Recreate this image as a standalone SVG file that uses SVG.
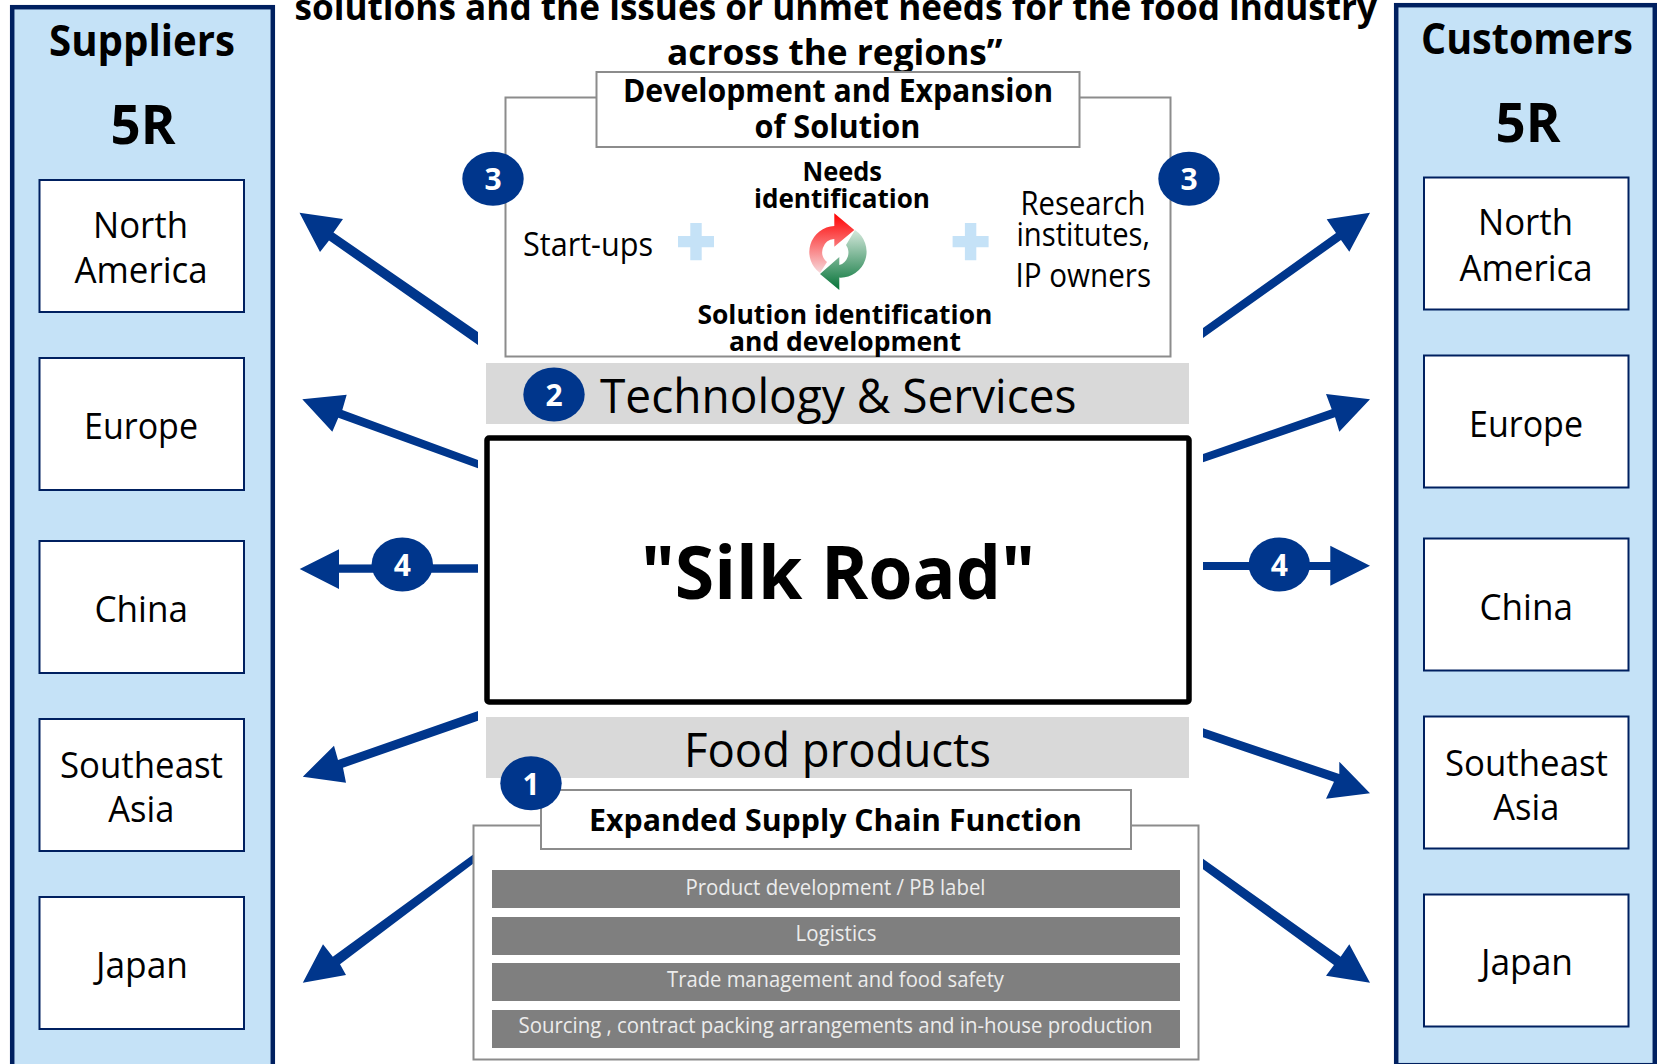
<svg xmlns="http://www.w3.org/2000/svg" width="1657" height="1064" viewBox="0 0 1657 1064">
<style>
text{font-family:"Open Sans","Noto Sans","Liberation Sans",sans-serif;fill:#000}
.b{font-weight:700}
.panel{fill:#c5e2f7;stroke:#002060;stroke-width:4.5}
.region{fill:#fff;stroke:#002060;stroke-width:2}
.conn{fill:#00368c}
.badge{fill:#00368c}
.num{fill:#fff;font-weight:700;font-size:30px;text-anchor:middle}
.frame{fill:#fff;stroke:#8c8c8c;stroke-width:2}
.band{fill:#d9d9d9}
.bar{fill:#7f7f7f}
.bt{fill:#ececec;font-size:21px}
.r{font-size:36px}
.plus{fill:#c5e2f7}
</style>
<defs>
<linearGradient id="gr" x1="0" y1="0" x2="0" y2="1"><stop offset="0" stop-color="#ff0000"/><stop offset="1" stop-color="#f6d9dc"/></linearGradient>
<linearGradient id="gg" x1="0" y1="0" x2="0" y2="1"><stop offset="0" stop-color="#d5e8dc"/><stop offset="1" stop-color="#057338"/></linearGradient>
</defs>
<rect width="1657" height="1064" fill="#fff"/>

<g id="title">
<text class="b" x="294.5" y="19.5" font-size="36" textLength="1082.5" lengthAdjust="spacingAndGlyphs">solutions and the issues or unmet needs for the food industry</text>
<text class="b" x="667" y="64.5" font-size="36" textLength="335.5" lengthAdjust="spacingAndGlyphs">across the regions”</text>
</g>

<g id="suppliers">
<rect class="panel" x="12.2" y="7.2" width="260.6" height="1070"/>
<text class="b" x="49" y="56" font-size="43" textLength="186" lengthAdjust="spacingAndGlyphs">Suppliers</text>
<text class="b" x="110.5" y="144" font-size="53" textLength="65" lengthAdjust="spacingAndGlyphs">5R</text>
</g>
<g id="supplier-north-america"><rect class="region" x="39.5" y="180" width="204.5" height="132"/><text class="r" x="93" y="238" textLength="95" lengthAdjust="spacingAndGlyphs">North</text><text class="r" x="74.5" y="282.8" textLength="133" lengthAdjust="spacingAndGlyphs">America</text></g>
<g id="supplier-europe"><rect class="region" x="39.5" y="358" width="204.5" height="132"/><text class="r" x="84" y="439" textLength="114" lengthAdjust="spacingAndGlyphs">Europe</text></g>
<g id="supplier-china"><rect class="region" x="39.5" y="541" width="204.5" height="132"/><text class="r" x="94.5" y="622" textLength="93.5" lengthAdjust="spacingAndGlyphs">China</text></g>
<g id="supplier-southeast-asia"><rect class="region" x="39.5" y="719" width="204.5" height="132"/><text class="r" x="60" y="777.5" textLength="163" lengthAdjust="spacingAndGlyphs">Southeast</text><text class="r" x="108.3" y="822.3" textLength="66" lengthAdjust="spacingAndGlyphs">Asia</text></g>
<g id="supplier-japan"><rect class="region" x="39.5" y="897" width="204.5" height="132"/><text class="r" x="96" y="977.5" textLength="92" lengthAdjust="spacingAndGlyphs">Japan</text></g>

<g id="customers">
<rect class="panel" x="1396.2" y="5.2" width="258.6" height="1060"/>
<text class="b" x="1421" y="54.3" font-size="43" textLength="212" lengthAdjust="spacingAndGlyphs">Customers</text>
<text class="b" x="1495.5" y="142.3" font-size="53" textLength="65" lengthAdjust="spacingAndGlyphs">5R</text>
</g>
<g id="customer-north-america"><rect class="region" x="1424" y="177.5" width="204.5" height="132"/><text class="r" x="1478" y="235.4" textLength="95" lengthAdjust="spacingAndGlyphs">North</text><text class="r" x="1459.5" y="280.8" textLength="133" lengthAdjust="spacingAndGlyphs">America</text></g>
<g id="customer-europe"><rect class="region" x="1424" y="355.5" width="204.5" height="132"/><text class="r" x="1469" y="437" textLength="114" lengthAdjust="spacingAndGlyphs">Europe</text></g>
<g id="customer-china"><rect class="region" x="1424" y="538.5" width="204.5" height="132"/><text class="r" x="1479.5" y="619.5" textLength="93.5" lengthAdjust="spacingAndGlyphs">China</text></g>
<g id="customer-southeast-asia"><rect class="region" x="1424" y="716.5" width="204.5" height="132"/><text class="r" x="1445" y="775.5" textLength="163" lengthAdjust="spacingAndGlyphs">Southeast</text><text class="r" x="1493.3" y="820" textLength="66" lengthAdjust="spacingAndGlyphs">Asia</text></g>
<g id="customer-japan"><rect class="region" x="1424" y="894.5" width="204.5" height="132"/><text class="r" x="1481" y="975" textLength="92" lengthAdjust="spacingAndGlyphs">Japan</text></g>

<g id="connectors">
<polygon class="conn" points="299.5,212.7 343,219 333.5,232.5 478,332 478,345 329,240.5 320,252"/>
<polygon class="conn" points="302.3,399.3 346.7,394.7 342.3,410 478,460 478,468.3 338.3,417.7 332.3,431.7"/>
<polygon class="conn" points="299.7,569 339,549.3 339,564.5 478,564.3 478,572.7 339,572.7 339,589"/>
<polygon class="conn" points="302.8,776.7 334,745.7 338,760 478,711 478,720.7 343,767.7 346,782.7"/>
<polygon class="conn" points="302.8,982.7 323,944.3 332.8,956.7 478,851 478,860 340,964.3 346,975"/>
<polygon class="conn" points="1370,212.7 1326.7,219.3 1336,233 1203,328 1203,338 1341,240 1349.3,251.7"/>
<polygon class="conn" points="1370,399.3 1326,394 1331.7,409.3 1203,454 1203,462.3 1335,417.3 1339.3,431.7"/>
<polygon class="conn" points="1370,565.7 1330.3,545.7 1330.3,562 1203,562 1203,570 1330.3,570 1330.3,585.7"/>
<polygon class="conn" points="1370,793.3 1339.3,761.7 1339.3,774 1203,728.3 1203,737.3 1334,781.7 1326,798.7"/>
<polygon class="conn" points="1370,982.7 1349.3,944.3 1340.7,956.7 1203,858.7 1203,869.3 1334,965 1326,975.7"/>
</g>

<g id="development">
<rect class="frame" x="505.5" y="97.5" width="665" height="259"/>
<rect class="frame" x="596.5" y="72" width="483" height="75"/>
<text class="b" x="623" y="102" font-size="32" textLength="430" lengthAdjust="spacingAndGlyphs">Development and Expansion</text>
<text class="b" x="754.5" y="137.5" font-size="32" textLength="166" lengthAdjust="spacingAndGlyphs">of Solution</text>
<text class="b" x="802.5" y="181.2" font-size="27" textLength="79.5" lengthAdjust="spacingAndGlyphs">Needs</text>
<text class="b" x="754" y="208.3" font-size="27" textLength="176" lengthAdjust="spacingAndGlyphs">identification</text>
<text class="b" x="697.4" y="323.5" font-size="27" textLength="295" lengthAdjust="spacingAndGlyphs">Solution identification</text>
<text class="b" x="729" y="350.8" font-size="27" textLength="232" lengthAdjust="spacingAndGlyphs">and development</text>
<text x="523" y="255.5" font-size="32" textLength="130" lengthAdjust="spacingAndGlyphs">Start-ups</text>
<text x="1020.5" y="215" font-size="32" textLength="125" lengthAdjust="spacingAndGlyphs">Research</text>
<text x="1016.5" y="246" font-size="32" textLength="133.5" lengthAdjust="spacingAndGlyphs">institutes,</text>
<text x="1015.5" y="286.7" font-size="32" textLength="135.5" lengthAdjust="spacingAndGlyphs">IP owners</text>
<path class="plus" d="M690.3,223h11.4v12.9h12.3v11.4h-12.3v13h-11.4v-13h-12.3v-11.4h12.3z"/>
<path class="plus" d="M964.9,223h11.4v12.9h12.3v11.4h-12.3v13h-11.4v-13h-12.3v-11.4h12.3z"/>
<path fill="url(#gg)" d="M855,230A26,26 0 0 1 839.3,277.6L839.3,290L820,274L839.3,257L839.3,265A13,13 0 0 0 846,245Z"/>
<path fill="url(#gr)" d="M820,273A26,26 0 0 1 834.3,226L834.3,213.3L854.3,230L834.3,246.7L834.3,239A13,13 0 0 0 827,262Z"/>
</g>

<g id="technology-services">
<rect class="band" x="486" y="363" width="703" height="61"/>
<text x="600" y="412.7" font-size="48" textLength="476.5" lengthAdjust="spacingAndGlyphs">Technology &amp; Services</text>
</g>

<g id="silk-road">
<rect x="487" y="438" width="702" height="264" rx="2" fill="#fff" stroke="#000" stroke-width="5.5"/>
<text class="b" x="641" y="599" font-size="73" textLength="394" lengthAdjust="spacingAndGlyphs">"Silk Road"</text>
</g>

<g id="food-products">
<rect class="band" x="486" y="717" width="703" height="61"/>
<text x="684" y="766.5" font-size="48" textLength="307" lengthAdjust="spacingAndGlyphs">Food products</text>
</g>

<g id="supply-chain">
<rect class="frame" x="473.5" y="825.5" width="725" height="234"/>
<rect class="frame" x="541" y="790" width="590" height="59"/>
<text class="b" x="589" y="831" font-size="30" textLength="493" lengthAdjust="spacingAndGlyphs">Expanded Supply Chain Function</text>
<rect class="bar" x="492" y="870" width="688" height="38"/>
<text class="bt" x="685.5" y="894.7" textLength="300" lengthAdjust="spacingAndGlyphs">Product development / PB label</text>
<rect class="bar" x="492" y="917" width="688" height="38"/>
<text class="bt" x="795.6" y="940.7" textLength="81" lengthAdjust="spacingAndGlyphs">Logistics</text>
<rect class="bar" x="492" y="963" width="688" height="38"/>
<text class="bt" x="667" y="987.4" textLength="337" lengthAdjust="spacingAndGlyphs">Trade management and food safety</text>
<rect class="bar" x="492" y="1010" width="688" height="38"/>
<text class="bt" x="518.6" y="1033.4" textLength="634" lengthAdjust="spacingAndGlyphs">Sourcing , contract packing arrangements and in-house production</text>
</g>

<g id="badge-1"><ellipse class="badge" cx="531" cy="783.3" rx="30.7" ry="27"/><text class="num" x="531" y="794.5">1</text></g>
<g id="badge-2"><ellipse class="badge" cx="554" cy="394.5" rx="30.7" ry="27"/><text class="num" x="554" y="405.5">2</text></g>
<g id="badge-3-left"><ellipse class="badge" cx="493" cy="178.8" rx="30.7" ry="27"/><text class="num" x="493" y="190">3</text></g>
<g id="badge-3-right"><ellipse class="badge" cx="1189" cy="178.8" rx="30.7" ry="27"/><text class="num" x="1189" y="190">3</text></g>
<g id="badge-4-left"><ellipse class="badge" cx="402.3" cy="564.5" rx="30.7" ry="27"/><text class="num" x="402.3" y="575.5">4</text></g>
<g id="badge-4-right"><ellipse class="badge" cx="1279.3" cy="564.5" rx="30.7" ry="27"/><text class="num" x="1279.3" y="575.5">4</text></g>
</svg>
